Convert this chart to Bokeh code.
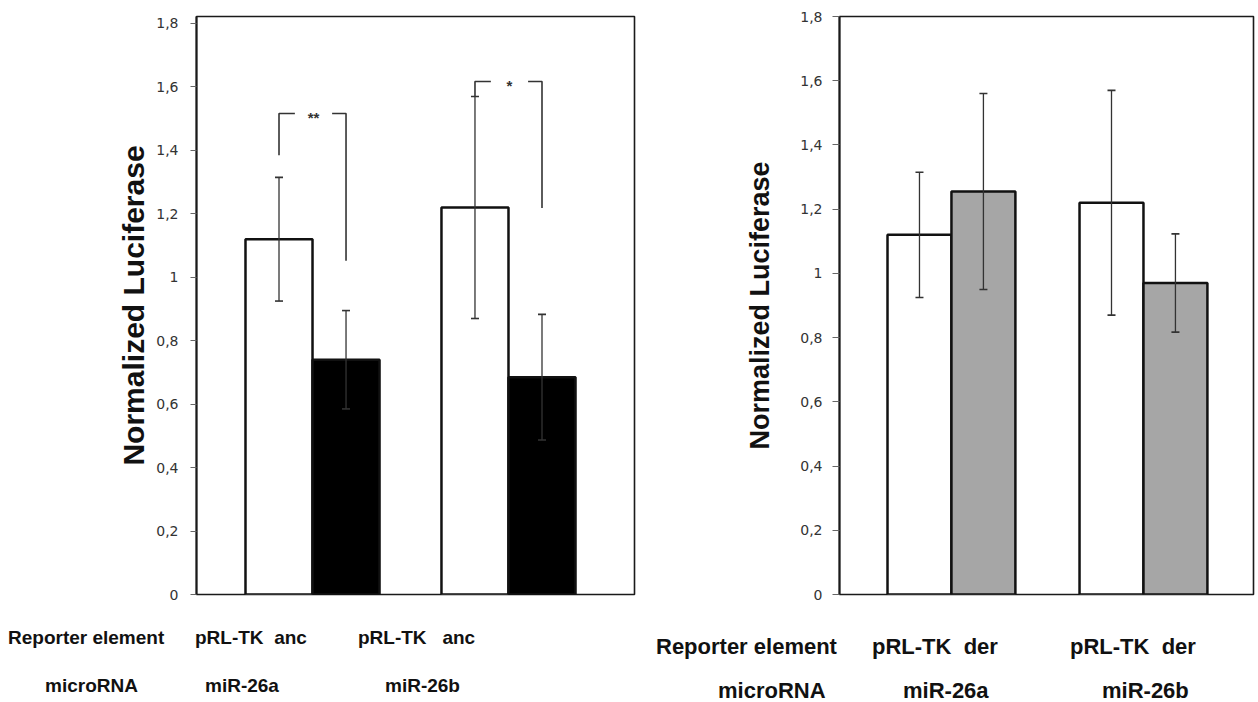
from bokeh.plotting import figure
from bokeh.layouts import row, column
from bokeh.models import (Range1d, FixedTicker, CustomJSTickFormatter, Whisker,
                          TeeHead, ColumnDataSource, Div)
from bokeh.embed import file_html
from bokeh.resources import INLINE

# ---------------- data ----------------
groups = [0, 1]  # miR-26a, miR-26b
microrna = ["miR-26a", "miR-26b"]
left_ctrl = [1.12, 1.22]
left_ctrl_err = [0.195, 0.35]
left_mir = [0.74, 0.685]
left_mir_err = [0.155, 0.198]
right_ctrl = [1.12, 1.22]
right_ctrl_err = [0.195, 0.35]
right_mir = [1.255, 0.97]
right_mir_err = [0.305, 0.153]
y_ticks = [0, 0.2, 0.4, 0.6, 0.8, 1.0, 1.2, 1.4, 1.6, 1.8]
sig_marks = ["**", "*"]
sig_left_end = [1.385, 1.57]
sig_top = [1.516, 1.617]
sig_right_end = [1.052, 1.218]
reporter_left = ["pRL-TK&nbsp;&nbsp;anc", "pRL-TK&nbsp;&nbsp;&nbsp;anc"]
reporter_right = ["pRL-TK&nbsp;&nbsp;der", "pRL-TK&nbsp;&nbsp;der"]

H_TOP = 604
TXT = "#111111"
FONT = "Liberation Sans"


def make_panel(width, bl, br, xr, yr, bw, ctrl, ctrl_err, mir, mir_err,
               mir_color, tick_out, standoff, title_size, title_standoff):
    p = figure(width=width, height=H_TOP, output_backend="svg", toolbar_location=None,
               x_range=Range1d(*xr), y_range=Range1d(*yr),
               min_border_left=bl, min_border_right=br, min_border_top=16,
               min_border_bottom=10, tools="")
    p.xaxis.visible = False
    p.grid.visible = False
    p.outline_line_color = "#1a1a1a"
    p.outline_line_width = 1.6
    p.background_fill_color = "white"
    p.border_fill_color = "white"
    ax = p.yaxis[0]
    ax.ticker = FixedTicker(ticks=y_ticks)
    ax.formatter = CustomJSTickFormatter(
        code="const v = Math.round(tick*10)/10; return v.toString().replace('.', ',');")
    ax.axis_line_color = "#1a1a1a"
    ax.axis_line_width = 2
    ax.major_tick_in = 0
    ax.major_tick_out = tick_out
    ax.major_tick_line_color = "#666666"
    ax.minor_tick_line_color = None
    ax.major_label_standoff = standoff
    ax.major_label_text_font = "DejaVu Sans"
    ax.major_label_text_font_size = "14px"
    ax.major_label_text_color = "#333333"
    ax.axis_label = "Normalized Luciferase"
    ax.axis_label_text_font = FONT
    ax.axis_label_text_font_style = "bold"
    ax.axis_label_text_font_size = title_size
    ax.axis_label_text_color = TXT
    ax.axis_label_standoff = title_standoff

    xc = [g - bw / 2 for g in groups]
    xm = [g + bw / 2 for g in groups]
    p.vbar(x=xc, top=ctrl, width=bw, fill_color="white", line_color="#111111", line_width=2.5)
    p.vbar(x=xm, top=mir, width=bw, fill_color=mir_color, line_color="#111111", line_width=2.5)

    src = ColumnDataSource(dict(
        base=xc + xm,
        upper=[v + e for v, e in zip(ctrl, ctrl_err)] + [v + e for v, e in zip(mir, mir_err)],
        lower=[v - e for v, e in zip(ctrl, ctrl_err)] + [v - e for v, e in zip(mir, mir_err)],
    ))
    w = Whisker(source=src, base="base", upper="upper", lower="lower",
                line_color="#333333", line_width=1.3, level="overlay",
                upper_head=TeeHead(size=8, line_color="#333333", line_width=1.6),
                lower_head=TeeHead(size=8, line_color="#333333", line_width=1.6))
    p.add_layout(w)
    return p, xc, xm


# ---------------- left panel ----------------
pL, Lxc, Lxm = make_panel(700, 196, 66, (-0.592, 1.643), (0, 1.822), 0.342,
                          left_ctrl, left_ctrl_err, left_mir, left_mir_err,
                          "#000000", 6, 12, "30px", 3)

gap = 0.095
bx, by = [], []
for i, g in enumerate(groups):
    star_x = g + 0.005
    bx.append([Lxc[i], Lxc[i], star_x - gap])
    by.append([sig_left_end[i], sig_top[i], sig_top[i]])
    bx.append([star_x + gap, Lxm[i], Lxm[i]])
    by.append([sig_top[i], sig_top[i], sig_right_end[i]])
    pL.text(x=[star_x], y=[sig_top[i] - 0.012], text=[sig_marks[i]],
            text_font_size="15px", text_font_style="bold", text_color="#333333",
            text_align="center", text_baseline="middle")
pL.multi_line(xs=bx, ys=by, line_color="#333333", line_width=1.6)

# ---------------- right panel ----------------
pR, Rxc, Rxm = make_panel(556, 139, 3, (-0.583, 1.573), (0, 1.8), 0.333,
                          right_ctrl, right_ctrl_err, right_mir, right_mir_err,
                          "#a6a6a6", 7, 10, "27px", 22)

# ---------------- category rows below ----------------
def span(left, center_y, size, text):
    top = center_y - size * 0.5
    return (f'<span style="position:absolute;left:{left}px;top:{top}px;'
            f'font-size:{size}px;line-height:1;white-space:nowrap;">{text}</span>')

spans = [
    span(8, 33, 19, "Reporter element"),
    span(195, 33, 19, reporter_left[0]),
    span(358, 33, 19, reporter_left[1]),
    span(45, 81, 19, "microRNA"),
    span(205, 81, 19, microrna[0]),
    span(385, 81, 19, microrna[1]),
    span(656, 43, 22, "Reporter element"),
    span(872, 43, 22, reporter_right[0]),
    span(1070, 43, 22, reporter_right[1]),
    span(718, 87, 22, "microRNA"),
    span(903, 87, 22, microrna[0]),
    span(1102, 87, 22, microrna[1]),
]
html = (f'<div style="position:relative;width:1256px;height:98px;'
        f'font-family:\'{FONT}\',Arial,sans-serif;font-weight:bold;color:{TXT};">'
        + "".join(spans) + "</div>")
labels = Div(text=html, width=1256, height=98, margin=0)

layout = column(row(pL, pR, spacing=0), labels, spacing=0)
open("out.html", "w").write(file_html(layout, INLINE))
